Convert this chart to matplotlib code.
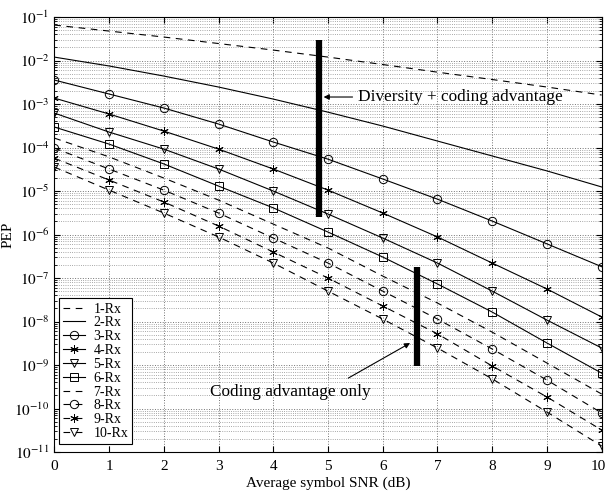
import matplotlib
matplotlib.use('Agg')
import matplotlib.pyplot as plt
import matplotlib.ticker as mticker
import matplotlib.transforms as mtransforms
import numpy as np

# fonts, times-like like the original matlab figure
plt.rcParams['font.family'] = ['Liberation Serif', 'DejaVu Serif']
plt.rcParams['mathtext.fontset'] = 'stix'

# data
snr = [0, 1, 2, 3, 4, 5, 6, 7, 8, 9, 10]
labels = ['1-Rx', '2-Rx', '3-Rx', '4-Rx', '5-Rx', '6-Rx', '7-Rx', '8-Rx', '9-Rx', '10-Rx']

pep_1rx = [6.55e-2, 4.76e-2, 3.47e-2, 2.46e-2, 1.74e-2, 1.20e-2, 8.1e-3, 5.4e-3, 3.66e-3, 2.46e-3, 1.61e-3]
pep_2rx = [1.20e-2, 7.5e-3, 4.4e-3, 2.46e-3, 1.30e-3, 6.5e-4, 3.12e-4, 1.41e-4, 6.4e-5, 2.9e-5, 1.24e-5]
pep_3rx = [3.56e-3, 1.70e-3, 8.1e-4, 3.47e-4, 1.34e-4, 5.4e-5, 1.89e-5, 6.5e-6, 2.04e-6, 6.1e-7, 1.82e-7]
pep_4rx = [1.37e-3, 5.9e-4, 2.39e-4, 9.2e-5, 3.21e-5, 1.05e-5, 3.12e-6, 8.8e-7, 2.21e-7, 5.6e-8, 1.27e-8]
pep_5rx = [6.2e-4, 2.27e-4, 9.2e-5, 3.21e-5, 1.0e-5, 2.96e-6, 8.3e-7, 2.21e-7, 5.0e-8, 1.08e-8, 2.46e-9]
pep_6rx = [2.96e-4, 1.20e-4, 4.2e-5, 1.30e-5, 4.1e-6, 1.14e-6, 3.04e-7, 7.3e-8, 1.65e-8, 3.21e-9, 6.5e-10]
pep_7rx = [1.65e-4, 6.1e-5, 1.99e-5, 6.2e-6, 1.74e-6, 4.9e-7, 1.11e-7, 2.66e-8, 5.7e-9, 1.11e-9, 2.15e-10]
pep_8rx = [9.7e-5, 3.21e-5, 1.05e-5, 3.12e-6, 8.3e-7, 2.21e-7, 5.0e-8, 1.14e-8, 2.33e-9, 4.5e-10, 7.9e-11]
pep_9rx = [5.7e-5, 1.79e-5, 5.6e-6, 1.57e-6, 3.96e-7, 1.0e-7, 2.27e-8, 5.2e-9, 9.5e-10, 1.84e-10, 3.2e-11]
pep_10rx = [3.56e-5, 1.05e-5, 3.12e-6, 8.8e-7, 2.21e-7, 5.0e-8, 1.14e-8, 2.46e-9, 4.8e-10, 8.3e-11, 1.37e-11]

all_pep = [pep_1rx, pep_2rx, pep_3rx, pep_4rx, pep_5rx,
           pep_6rx, pep_7rx, pep_8rx, pep_9rx, pep_10rx]
styles = ['--', '-', '-', '-', '-', '-', '--', '--', '--', '--']
star = (6, 2, 0)  # asterisk, like matlab '*'
markers = [None, None, 'o', star, 'v', 's', None, 'o', star, 'v']

fig = plt.figure(figsize=(6.06, 4.91), dpi=100)
ax = fig.add_axes([0.0896, 0.0794, 0.9033, 0.8859])

for pep, ls, mk, lab in zip(all_pep, styles, markers, labels):
    ax.semilogy(snr, pep, color='k', linestyle=ls, linewidth=0.8,
                marker=mk, markersize=6, fillstyle='none',
                markeredgewidth=0.7, dashes=(6, 5) if ls == '--' else (None, None),
                label=lab)

ax.set_xlim(0, 10)
ax.set_ylim(1e-11, 1e-1)
ax.set_xticks(snr)
ax.set_yticks([10.0 ** -k for k in range(1, 12)])
ax.set_yticklabels([r'$10^{-%d}$' % k for k in range(1, 12)])
ax.yaxis.set_minor_locator(mticker.LogLocator(base=10, subs=np.arange(2, 10), numticks=100))
ax.yaxis.set_minor_formatter(mticker.NullFormatter())

ax.grid(True, which='major', axis='both', linestyle=':', color='0.45', linewidth=0.7)
ax.grid(True, which='minor', axis='y', linestyle=':', color='0.55', linewidth=0.6)
ax.tick_params(which='both', direction='in', top=True, right=True, labelsize=11)
ax.tick_params(which='major', length=4)
ax.tick_params(which='minor', length=2)
ax.tick_params(axis='x', pad=6)

# last x label sits on the figure edge, nudge it in a little
last = ax.get_xticklabels()[-1]
last.set_transform(last.get_transform() + mtransforms.ScaledTranslation(-3 / 100, 0, fig.dpi_scale_trans))

ax.set_xlabel('Average symbol SNR (dB)', fontsize=11, labelpad=2)
ax.set_ylabel('PEP', fontsize=11)
ax.yaxis.set_label_coords(-0.072, 0.5)

# thick bars marking the two advantages
ax.plot([4.84, 4.84], [2.96e-2, 2.52e-6], color='k', linewidth=4.5, solid_capstyle='butt')
ax.plot([6.62, 6.62], [1.79e-7, 9.5e-10], color='k', linewidth=4.5, solid_capstyle='butt')

ax.annotate('Diversity + coding advantage', xy=(4.92, 1.45e-3), xytext=(5.55, 1.45e-3),
            fontsize=12.4, va='center', ha='left',
            arrowprops=dict(arrowstyle='-|>', color='k', linewidth=0.8, mutation_scale=8,
                            shrinkA=2, shrinkB=0))
ax.annotate('Coding advantage only', xy=(6.5, 3.2e-9), xytext=(2.85, 2.4e-10),
            fontsize=12.4, va='center', ha='left')
ax.annotate('', xy=(6.5, 3.2e-9), xytext=(5.37, 5.0e-10),
            arrowprops=dict(arrowstyle='-|>', color='k', linewidth=0.8, mutation_scale=8,
                            shrinkA=0, shrinkB=0))

leg = ax.legend(loc='lower left', bbox_to_anchor=(0.008, 0.018), borderaxespad=0,
                fontsize=10, handlelength=1.6, labelspacing=0.06, borderpad=0.3,
                handletextpad=0.6, fancybox=False, framealpha=1, edgecolor='k')
leg.get_frame().set_linewidth(0.8)

plt.savefig('out.png', dpi=100)
